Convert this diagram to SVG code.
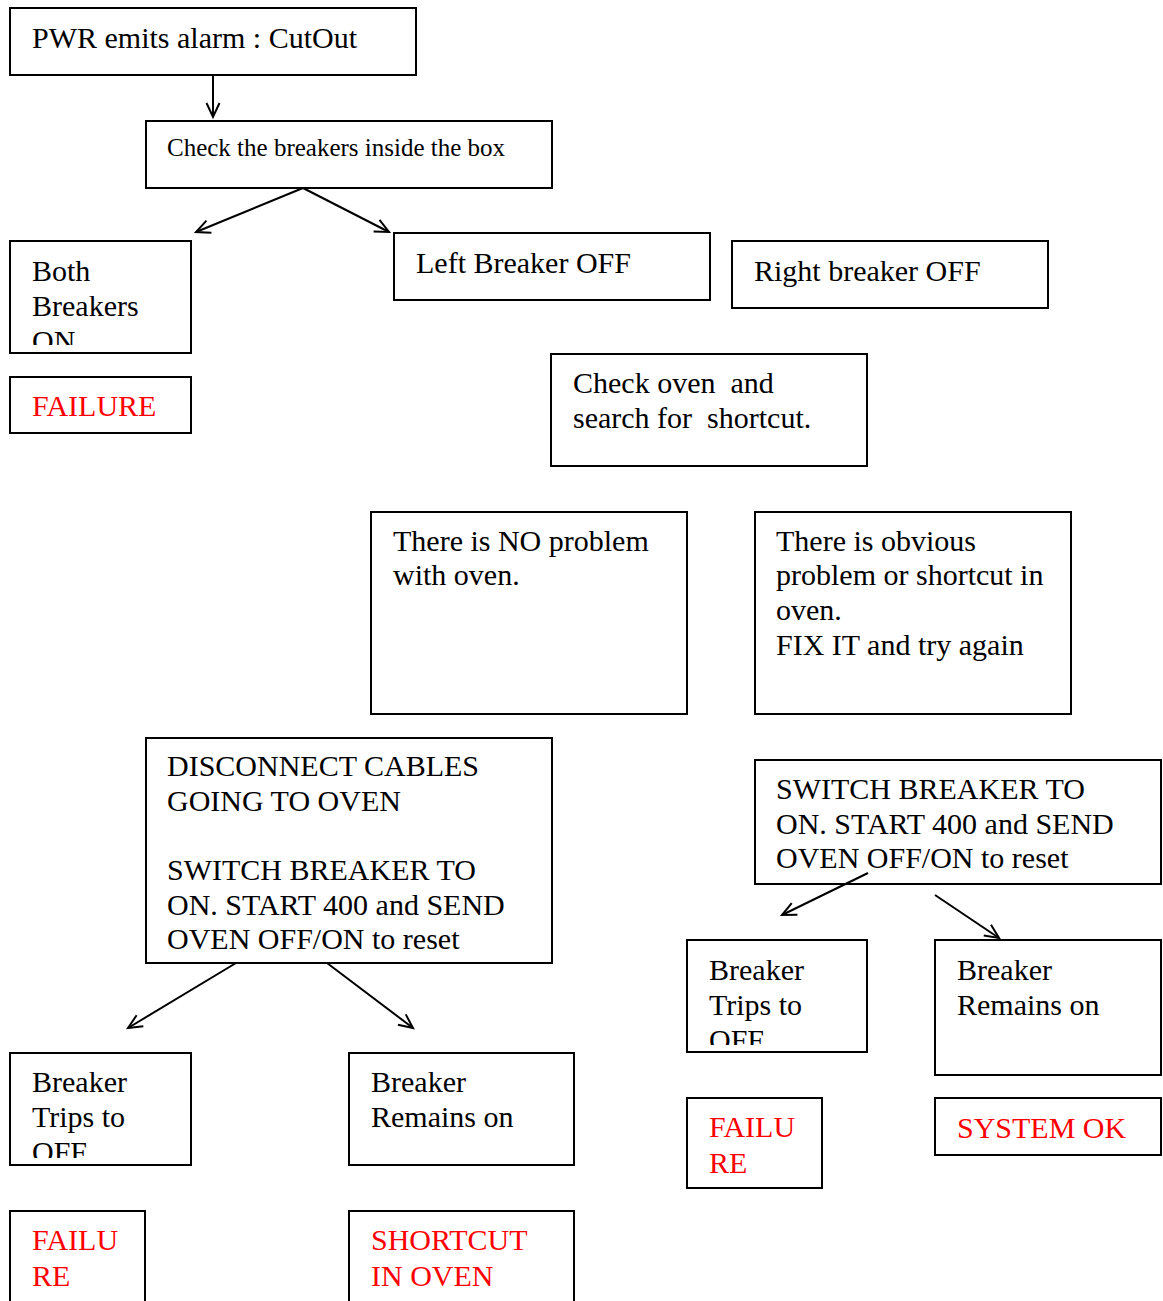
<svg xmlns="http://www.w3.org/2000/svg" width="1163" height="1301" viewBox="0 0 1163 1301">
<style>
rect.b{fill:#fff;stroke:#000;stroke-width:2}
text{font-family:"Liberation Serif","Times New Roman",serif;font-size:30px;fill:#000;white-space:pre}
text.r{fill:#ff0000}
text.s{font-size:25px}
.c line{stroke:#000;stroke-width:2;fill:none;marker-end:url(#ah)}
</style>
<defs>
<marker id="ah" markerUnits="userSpaceOnUse" markerWidth="20" markerHeight="20" refX="15" refY="7" orient="auto" viewBox="0 0 20 14">
<path d="M1,0.5 L15,7 L1,13.5" fill="none" stroke="#000" stroke-width="2"/>
</marker>
<clipPath id="c1"><rect x="10" y="241" width="181" height="104"/></clipPath>
<clipPath id="c2"><rect x="687" y="940" width="180" height="105"/></clipPath>
<clipPath id="c3"><rect x="10" y="1053" width="181" height="105"/></clipPath>
</defs>
<g id="n1"><rect class="b" x="10" y="8" width="406" height="67"/><text x="32" y="48">PWR emits alarm : CutOut</text></g>
<g id="n2"><rect class="b" x="146" y="121" width="406" height="67"/><text class="s" x="167" y="156">Check the breakers inside the box</text></g>
<g id="n3"><rect class="b" x="10" y="241" width="181" height="112"/><g clip-path="url(#c1)"><text x="32" y="281">Both</text><text x="32" y="316">Breakers</text><text x="32" y="351">ON</text></g></g>
<g id="n4"><rect class="b" x="10" y="377" width="181" height="56"/><text class="r" x="32" y="416">FAILURE</text></g>
<g id="n5"><rect class="b" x="394" y="233" width="316" height="67"/><text x="416" y="273">Left Breaker OFF</text></g>
<g id="n6"><rect class="b" x="732" y="241" width="316" height="67"/><text x="754" y="281">Right breaker OFF</text></g>
<g id="n7"><rect class="b" x="551" y="354" width="316" height="112"/><text x="573" y="393">Check oven  and</text><text x="573" y="428">search for  shortcut.</text></g>
<g id="n8"><rect class="b" x="371" y="512" width="316" height="202"/><text x="393" y="551">There is NO problem</text><text x="393" y="585">with oven.</text></g>
<g id="n9"><rect class="b" x="755" y="512" width="316" height="202"/><text x="776" y="551">There is obvious</text><text x="776" y="585">problem or shortcut in</text><text x="776" y="620">oven.</text><text x="776" y="655">FIX IT and try again</text></g>
<g id="n10"><rect class="b" x="146" y="738" width="406" height="225"/><text x="167" y="776">DISCONNECT CABLES</text><text x="167" y="811">GOING TO OVEN</text><text x="167" y="880">SWITCH BREAKER TO</text><text x="167" y="915">ON. START 400 and SEND</text><text x="167" y="949">OVEN OFF/ON to reset</text></g>
<g id="n11"><rect class="b" x="755" y="760" width="406" height="124"/><text x="776" y="799">SWITCH BREAKER TO</text><text x="776" y="834">ON. START 400 and SEND</text><text x="776" y="868">OVEN OFF/ON to reset</text></g>
<g id="n12"><rect class="b" x="687" y="940" width="180" height="112"/><g clip-path="url(#c2)"><text x="709" y="980">Breaker</text><text x="709" y="1015">Trips to</text><text x="709" y="1050">OFF</text></g></g>
<g id="n13"><rect class="b" x="935" y="940" width="226" height="135"/><text x="957" y="980">Breaker</text><text x="957" y="1015">Remains on</text></g>
<g id="n14"><rect class="b" x="687" y="1098" width="135" height="90"/><text class="r" x="709" y="1137">FAILU</text><text class="r" x="709" y="1173">RE</text></g>
<g id="n15"><rect class="b" x="935" y="1098" width="226" height="57"/><text class="r" x="957" y="1138">SYSTEM OK</text></g>
<g id="n16"><rect class="b" x="10" y="1053" width="181" height="112"/><g clip-path="url(#c3)"><text x="32" y="1092">Breaker</text><text x="32" y="1127">Trips to</text><text x="32" y="1162">OFF</text></g></g>
<g id="n17"><rect class="b" x="349" y="1053" width="225" height="112"/><text x="371" y="1092">Breaker</text><text x="371" y="1127">Remains on</text></g>
<g id="n18"><rect class="b" x="10" y="1211" width="135" height="100"/><text class="r" x="32" y="1250">FAILU</text><text class="r" x="32" y="1286">RE</text></g>
<g id="n19"><rect class="b" x="349" y="1211" width="225" height="100"/><text class="r" x="371" y="1250">SHORTCUT</text><text class="r" x="371" y="1286">IN OVEN</text></g>
<g class="c">
<line x1="213" y1="75" x2="213" y2="117"/>
<line x1="303" y1="188" x2="196" y2="232"/>
<line x1="303" y1="188" x2="389" y2="232"/>
<line x1="868" y1="873" x2="782" y2="915"/>
<line x1="935" y1="895" x2="999" y2="938"/>
<line x1="236" y1="963" x2="128" y2="1028"/>
<line x1="327" y1="963" x2="413" y2="1028"/>
</g>
</svg>
